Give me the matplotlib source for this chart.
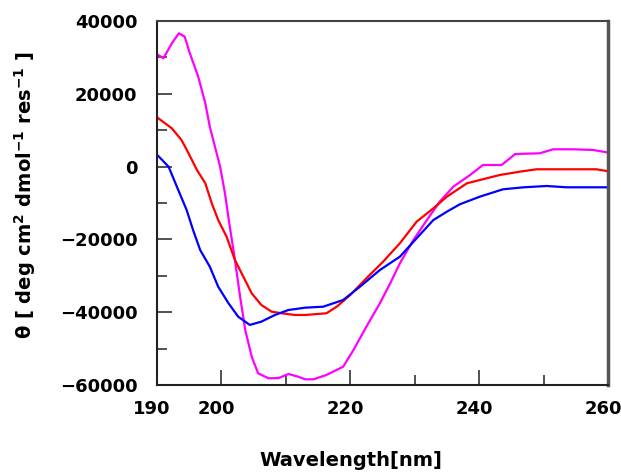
import matplotlib
matplotlib.use("Agg")
import matplotlib.pyplot as plt
import matplotlib.transforms as mtransforms
from matplotlib.ticker import MultipleLocator

# CD spectra (wavelength nm, mean residue ellipticity)
mag_wl = [190.2, 191.0, 192.3, 193.4, 194.3, 195.1, 196.4, 197.5, 198.2, 199.0,
          199.8, 200.55, 201.3, 202.1, 202.9, 203.7, 204.7, 205.7, 207.3, 208.9,
          210.4, 211.9, 213.0, 214.3, 216.3, 218.9, 220.5, 222.5, 224.6, 226.2,
          227.7, 229.8, 231.9, 233.9, 236.0, 238.6, 240.6, 243.5, 245.6, 249.4,
          251.5, 254.6, 257.7, 259.8]
mag_val = [30660, 29750, 33870, 36620, 35700, 31120, 24700, 17390, 10960, 5470,
           -30, -7340, -16500, -25660, -35740, -44890, -52220, -56790, -58160, -58100,
           -56980, -57720, -58440, -58440, -57250, -54970, -50380, -43980, -37550, -32060,
           -26570, -20160, -14670, -9600, -5510, -2310, 440, 440, 3460, 3650,
           4750, 4750, 4560, 3930]

red_wl = [190.2, 192.3, 193.8, 194.9, 196.2, 197.5, 198.5, 199.5, 200.8, 202.1,
          203.4, 204.7, 206.2, 207.8, 209.4, 211.4, 213.0, 216.3, 217.9, 220.0,
          222.5, 225.1, 227.7, 230.3, 232.9, 235.0, 238.1, 243.2, 246.3, 248.9,
          254.6, 258.2, 259.8]
red_val = [13270, 10520, 7310, 3650, -930, -4590, -10080, -14670, -19250, -25660,
           -30240, -34820, -38020, -39870, -40300, -40770, -40770, -40300, -38490, -35270,
           -30690, -26120, -21070, -15130, -11460, -8270, -4590, -2310, -1400, -740,
           -740, -740, -1210]

blue_wl = [190.2, 191.8, 193.3, 194.6, 195.6, 196.7, 198.2, 199.5, 201.1, 202.6,
           204.4, 206.2, 208.3, 210.4, 213.0, 215.8, 218.9, 221.5, 224.6, 227.7,
           230.3, 232.9, 235.0, 237.0, 240.1, 243.7, 246.9, 250.5, 253.6, 259.8]
blue_val = [2910, -30, -6430, -11920, -17420, -22910, -27500, -33000, -37550, -41230,
            -43500, -42600, -40770, -39400, -38760, -38490, -36650, -33000, -28410, -24750,
            -19700, -14670, -12390, -10360, -8270, -6240, -5690, -5330, -5690, -5690]

x_ticks = [190, 200, 220, 240, 260]
y_ticks = [-60000, -40000, -20000, 0, 20000, 40000]

plt.rcParams["font.family"] = ["DejaVu Sans"]
plt.rcParams["font.weight"] = "bold"
plt.rcParams["mathtext.fontset"] = "custom"
plt.rcParams["mathtext.rm"] = "DejaVu Sans:bold"
plt.rcParams["mathtext.it"] = "DejaVu Sans:bold"
plt.rcParams["mathtext.bf"] = "DejaVu Sans:bold"

fig = plt.figure(figsize=(6.21, 4.74), dpi=100)
ax = fig.add_axes([0.2528, 0.1878, 0.7262, 0.7679])

ax.plot(mag_wl, mag_val, color="#FF00FF", lw=1.6)
ax.plot(red_wl, red_val, color="#FF0000", lw=1.6)
ax.plot(blue_wl, blue_val, color="#0000FF", lw=1.6)

ax.set_xlim(190, 260)
ax.set_ylim(-60000, 40000)
ax.set_xticks(x_ticks)
ax.set_yticks(y_ticks)
ax.xaxis.set_minor_locator(MultipleLocator(10))
ax.yaxis.set_minor_locator(MultipleLocator(10000))
ax.tick_params(which="major", direction="in", length=11, width=1.2,
               labelsize=13, color="#333333")
ax.tick_params(which="minor", direction="in", length=7, width=1.2, color="#333333")
ax.tick_params(axis="y", pad=14)
ax.tick_params(axis="x", pad=11)

# x tick labels sit a few pixels left of their ticks in the reference
shift = mtransforms.ScaledTranslation(-5 / 100, 0, fig.dpi_scale_trans)
for lbl in ax.get_xticklabels():
    lbl.set_transform(lbl.get_transform() + shift)

for side in ["left", "bottom"]:
    ax.spines[side].set_linewidth(1.5)
    ax.spines[side].set_color("#222222")
ax.spines["top"].set_linewidth(1.5)
ax.spines["top"].set_color("#444444")
ax.spines["right"].set_linewidth(2.5)
ax.spines["right"].set_color("#555555")

fig.text(351 / 621, 1 - 460 / 474, "Wavelength[nm]", fontsize=14,
         fontweight="bold", ha="center", va="center")
fig.text(25 / 621, 1 - 195 / 474, r"θ [ deg cm$^{2}$ dmol$^{-1}$ res$^{-1}$ ]",
         fontsize=14, fontweight="bold", rotation=90, ha="center", va="center")

fig.savefig("out.png", dpi=100)
